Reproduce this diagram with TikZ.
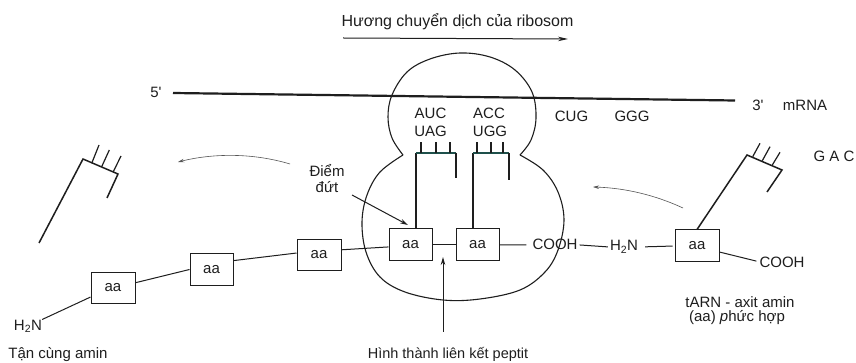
\documentclass[tikz,border=0pt]{standalone}
\usepackage{fontspec}
\setmainfont{Liberation Sans}
\usetikzlibrary{arrows.meta,calc}
\definecolor{inkc}{RGB}{30,30,30}
\definecolor{softink}{RGB}{85,85,85}
\definecolor{barink}{RGB}{30,80,75}
\newcommand{\fsz}[1]{\fontsize{#1}{#1}\selectfont}
\begin{document}
\begin{tikzpicture}[x=1pt,y=-1pt,
  lbl/.style={font=\fsz{15}, text=inkc, inner sep=0pt, anchor=base},
  aabox/.style={draw=inkc, line width=1pt, minimum width=43pt, minimum height=31pt,
                inner sep=0pt, font=\fsz{15}, text=inkc},
  bond/.style={draw=inkc, line width=1pt},
  trna/.style={draw=inkc, line width=1.5pt},
  tick/.style={draw=inkc, line width=1.2pt},
  anticodon/.style={draw=barink, line width=1.5pt},
  ribo/.style={draw=inkc, line width=1.1pt},
  move/.style={draw=softink, line width=0.6pt, -{Stealth[length=6pt,width=3.5pt]}},
  pointer/.style={draw=inkc, line width=1pt, -{Stealth[length=8pt,width=4.5pt]}}
]
\useasboundingbox (0,0) rectangle (856,363);
\fill[white] (0,0) rectangle (856,363);

% direction of ribosome travel
\node[lbl, font=\fsz{16}] (title) at (457.5,26.5) {Hương chuyển dịch của ribosom};
\coordinate (dirTail) at (343,38);
\coordinate (dirTip) at (568,39);
\draw[draw=inkc, line width=1pt, -{Stealth[length=10pt,width=4.5pt]}] (dirTail) -- (dirTip);

% ribosome: small (upper) and large (lower) subunits
\draw[ribo] plot[smooth, tension=0.6] coordinates {(403,155) (392,138) (388,117) (392,95) (407,72) (430,59) (460,53) (490,57) (515,70) (532,92) (536,118) (531,140) (520,155)};
\draw[ribo] plot[smooth, tension=0.6] coordinates {(520,155) (543,170) (558,192) (564,220) (558,250) (545,272) (520,290) (480,299) (443,300) (405,292) (380,277) (366,252) (362,222) (367,195) (380,172) (403,155)};

% mRNA strand
\node[lbl] (five) at (156,98) {5\textquotesingle};
\coordinate (mStart) at (173,93);
\coordinate (mEnd) at (735,100.5);
\draw[draw=inkc, line width=2.2pt] (mStart) -- (mEnd);
\node[lbl] (three) at (758,111) {3\textquotesingle};
\node[lbl] (mrna) at (805,111) {mRNA};

% codons and anticodons
\node[lbl] (auc) at (430.5,119) {AUC};
\node[lbl] (uag) at (430.5,137) {UAG};
\node[lbl] (acc) at (489,119) {ACC};
\node[lbl] (ugg) at (490,137) {UGG};
\node[lbl] (cug) at (571.5,122) {CUG};
\node[lbl] (ggg) at (632,122) {GGG};
\node[lbl] (gac) at (834,162) {G A C};

% amino acids of the chain
\node[aabox, minimum width=44pt] (pA) at (113,287.5) {aa};
\node[aabox] (pB) at (211.5,269.5) {aa};
\node[aabox, minimum width=44pt, minimum height=30pt] (pC) at (319,255) {aa};
\node[aabox, minimum height=32pt] (p1) at (410.5,245) {aa};
\node[aabox, minimum height=32pt] (p2) at (477.5,245) {aa};
\node[aabox, minimum width=44pt, minimum height=32pt] (p3) at (697,246) {aa};

\node[lbl] (h2nL) at (28,330) {H\textsubscript{2}N};
\node[lbl] (cooh1) at (555,250) {COOH};
\node[lbl] (h2nR) at (624,251) {H\textsubscript{2}N};
\node[lbl] (cooh2) at (782,267) {COOH};

% peptide bonds
\draw[bond] (h2nL.north east) -- (pA.203);
\draw[bond] (pA.12) -- (pB.west);
\draw[bond] (pB.22) -- (pC.175);
\draw[bond] (pC.13) -- (p1.185);
\draw[bond] (p1.east) -- (p2.west);
\draw[bond, shorten >=6pt] (p2.east) -- (cooh1.west);
\draw[bond, shorten <=2pt, shorten >=2pt] (cooh1.east) -- (h2nR.west);
\draw[bond, shorten <=7pt, shorten >=2pt] (h2nR.east) -- (p3.west);
\draw[bond, shorten >=3pt] (p3.345) -- (cooh2.west);

% tRNA in the ribosome carrying the chain
\coordinate (aTop) at (416,153);
\draw[trna] (p1.north -| aTop) -- (aTop);
\draw[anticodon] (aTop) -- ++(40,0);
\draw[trna] ($(aTop)+(40,0)$) -- ++(0,25);
\foreach \dx in {5,20,34} \draw[tick] ($(aTop)+(\dx,0)$) -- ++(0,-11);

% tRNA in the ribosome carrying the new amino acid
\coordinate (bTop) at (473,153);
\draw[trna] (p2.north -| bTop) -- (bTop);
\draw[anticodon] (bTop) -- ++(36,0);
\draw[trna] ($(bTop)+(36,0)$) -- ++(0,27);
\foreach \dx in {4,18,30} \draw[tick] ($(bTop)+(\dx,0)$) -- ++(0,-11);

% incoming tRNA - amino acid complex
\coordinate (cTop) at (747,155);
\coordinate (cBar) at (782,170);
\coordinate (cArm) at (767,192);
\draw[trna] (p3.north) -- (cTop) -- (cBar) -- (cArm);
\draw[tick] (752.7,156.7) -- (760,143.3);
\draw[tick] (762.3,160.7) -- (770,146.7);
\draw[tick] (772.3,165) -- (780,152.3);

% released tRNA
\draw[trna] (39,243) -- (83,159) -- (118,174) -- (107,198);
\draw[tick] (91.7,163.3) -- (99,145);
\draw[tick] (101.7,166.7) -- (109.3,150);
\draw[tick] (113.3,171.7) -- (121,156);

% movement of tRNAs
\coordinate (outTail) at (290,164);
\coordinate (outTip) at (178,162);
\draw[move] (outTail) .. controls (250,152) and (210,154) .. (outTip);
\coordinate (inTail) at (683,208);
\coordinate (inTip) at (593,187);
\draw[move] (inTail) .. controls (655,195) and (625,188) .. (inTip);

% break point
\node[lbl] (diem) at (327,177) {Điểm};
\node[lbl] (dut) at (327,193) {đứt};
\coordinate (breakTail) at (352,195);
\coordinate (breakTip) at (408,225);
\draw[pointer] (breakTail) -- (breakTip);

% peptide bond formation
\node[lbl, font=\fsz{14.5}] (peptit) at (448,358) {Hình thành liên kết peptit};
\coordinate (bondTip) at (443,257);
\draw[pointer] ($(peptit.north)+(-5,-15)$) -- (bondTip);

% captions
\node[lbl] (tancung) at (58,358) {Tận cùng amin};
\node[lbl] (complex1) at (740,307) {tARN - axit amin};
\node[lbl] (complex2) at (737,321) {(aa) \textit{p}hức hợp};
\end{tikzpicture}
\end{document}
